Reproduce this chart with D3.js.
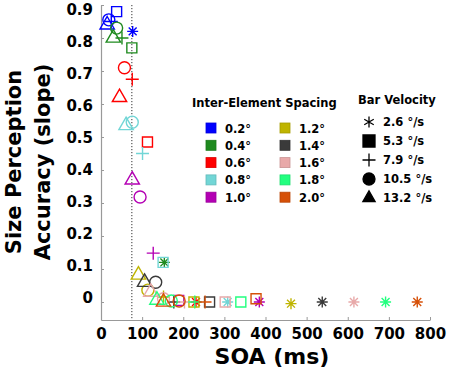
<!DOCTYPE html>
<html lang="en">
<head>
    <meta charset="UTF-8">
    <title>SOA vs size perception</title>
    <style>
        html, body { margin: 0; height: 100%; overflow: hidden; background: #fff; }
        text { font-family: "DejaVu Sans", Verdana, sans-serif; font-weight: bold; }
    </style>
    <script src="https://d3js.org/d3.v7.min.js"></script>
</head>
<body>
    <svg id="svg"></svg>
    <script>
        // data
        const spacings = ['0.2°', '0.4°', '0.6°', '0.8°', '1.0°', '1.2°', '1.4°', '1.6°', '1.8°', '2.0°'];
        const spacingColors = ['#0000ff', '#1f8a1f', '#ff0000', '#72d6d6', '#b400b4',
                               '#bfb400', '#3a3a3a', '#e8a9a9', '#22ff7f', '#d65008'];
        const velocities = ['2.6 °/s', '5.3 °/s', '7.9 °/s', '10.5 °/s', '13.2 °/s'];
        const velocityShapes = ['asterisk', 'square', 'plus', 'circle', 'triangle'];

        // SOA (ms), one row per spacing, columns follow velocities
        const soa = [
            [77, 38, 25, 19, 15],
            [154, 75, 51, 38, 30],
            [231, 113, 76, 57, 45],
            [308, 151, 101, 76, 61],
            [385, 189, 127, 95, 76],
            [462, 226, 152, 114, 91],
            [538, 264, 177, 133, 106],
            [615, 302, 203, 152, 121],
            [692, 340, 228, 171, 136],
            [769, 377, 253, 190, 152]
        ];
        // slope, same layout
        const slope = [
            [0.82, 0.88, 0.85, 0.855, 0.84],
            [0.12, 0.77, 0.80, 0.83, 0.80],
            [0.00, 0.485, 0.675, 0.71, 0.62],
            [0.00, 0.12, 0.45, 0.545, 0.535],
            [0.00, 0.005, 0.148, 0.318, 0.37],
            [-0.005, 0.00, 0.015, 0.036, 0.082],
            [0.00, 0.00, 0.00, 0.06, 0.06],
            [0.00, 0.00, 0.00, 0.01, 0.03],
            [0.00, 0.00, 0.00, 0.003, 0.006],
            [0.00, 0.01, 0.00, 0.003, 0.00]
        ];
        const xTicks = [0, 100, 200, 300, 400, 500, 600, 700, 800];
        const yTicks = [0, 0.1, 0.2, 0.3, 0.4, 0.5, 0.6, 0.7, 0.8, 0.9];
        const refSOA = 75;

        const width = 454, height = 371;
        const svg = d3.select('#svg').attr('width', width).attr('height', height);

        const xScale = d3.scaleLinear().domain([0, 800]).range([101, 430]);
        const yScale = d3.scaleLinear().domain([-0.0545, 0.9]).range([320, 5]);
        // tick labels in the original sit on a slightly tighter spread than the ticks
        const yLabelScale = d3.scaleLinear().domain([0, 0.9]).range([298, 10]);

        // marker paths
        function shapePath(type, s) {
            const r = s / 2;
            if (type === 'plus') return `M${-r},0H${r}M0,${-r}V${r}`;
            if (type === 'asterisk') {
                const d = r * 0.72;
                return `M${-r},0H${r}M0,${-r}V${r}M${-d},${-d}L${d},${d}M${-d},${d}L${d},${-d}`;
            }
            if (type === 'asterisk6') {
                const a = r * 0.866, b = r * 0.5;
                return `M0,${-r}V${r}M${-a},${-b}L${a},${b}M${-a},${b}L${a},${-b}`;
            }
            if (type === 'square') return d3.symbol(d3.symbolSquare, s * s)();
            if (type === 'circle') return d3.symbol(d3.symbolCircle, Math.PI * r * r)();
            if (type === 'triangle') return d3.symbol(d3.symbolTriangle, Math.sqrt(3) / 4 * s * s * 1.05)();
        }
        const shapeSize = { asterisk: 11, square: 10, plus: 13, circle: 12, triangle: 14 };

        // axes
        const yAxis = d3.axisLeft(yScale).tickValues(yTicks).tickSize(-3).tickSizeOuter(0).tickPadding(8)
            .tickFormat(d => d === 0 ? '0' : d3.format('.1f')(d));
        const gy = svg.append('g').attr('transform', 'translate(101,0)').call(yAxis);
        gy.selectAll('.tick text').attr('y', d => yLabelScale(d) - yScale(d));
        const xAxis = d3.axisBottom(xScale).tickValues(xTicks).tickSize(-3).tickSizeOuter(0).tickPadding(8);
        const gx = svg.append('g').attr('transform', 'translate(0,320)').call(xAxis);
        [gx, gy].forEach(g => {
            g.select('.domain').attr('stroke', '#999').attr('stroke-width', 1.2);
            g.selectAll('.tick line').attr('stroke', '#999');
            g.selectAll('.tick text').attr('fill', '#000').style('font-size', '15px');
        });

        // reference dotted line
        svg.append('line')
            .attr('x1', xScale(refSOA)).attr('x2', xScale(refSOA))
            .attr('y1', yScale(0.9)).attr('y2', 320)
            .attr('stroke', '#333').attr('stroke-width', 1).attr('stroke-dasharray', '1.2,1.8');

        // data points
        const points = [];
        spacings.forEach((sp, i) => {
            velocityShapes.forEach((shape, j) => {
                points.push({ spacing: i, shape: shape, soa: soa[i][j], slope: slope[i][j] });
            });
        });
        svg.append('g').selectAll('path').data(points).join('path')
            .attr('transform', d => `translate(${xScale(d.soa)},${yScale(d.slope)})`)
            .attr('d', d => shapePath(d.shape, shapeSize[d.shape]))
            .attr('fill', 'none')
            .attr('stroke', d => spacingColors[d.spacing])
            .attr('stroke-width', 1.4);

        // axis titles
        svg.append('text').attr('x', 272).attr('y', 364).attr('text-anchor', 'middle')
            .style('font-size', '22px').text('SOA (ms)');
        const yTitle = svg.append('g').attr('transform', 'translate(0,162) rotate(-90)');
        yTitle.append('text').attr('x', 0).attr('y', 21).attr('text-anchor', 'middle')
            .style('font-size', '21px').text('Size Perception');
        yTitle.append('text').attr('x', 0).attr('y', 50).attr('text-anchor', 'middle')
            .style('font-size', '21px').text('Accuracy (slope)');

        // spacing legend
        const leg1 = svg.append('g');
        leg1.append('text').attr('x', 192).attr('y', 107).style('font-size', '11.5px').text('Inter-Element Spacing');
        const legItems = leg1.selectAll('g.item').data(spacings).join('g').attr('class', 'item')
            .attr('transform', (d, i) => `translate(${i < 5 ? 206 : 280},${128 + (i % 5) * 17.3})`);
        legItems.append('rect').attr('x', 0).attr('y', -5).attr('width', 10).attr('height', 10)
            .attr('fill', (d, i) => spacingColors[i]).attr('stroke', (d, i) => d3.color(spacingColors[i]).darker(0.4))
            .attr('stroke-width', 0.8);
        legItems.append('text').attr('x', 19).attr('y', 4.5).style('font-size', '11.5px').text(d => d);

        // velocity legend
        const leg2 = svg.append('g');
        leg2.append('text').attr('x', 358).attr('y', 104).style('font-size', '11.5px').text('Bar Velocity');
        const velItems = leg2.selectAll('g.item').data(velocities).join('g').attr('class', 'item')
            .attr('transform', (d, i) => `translate(369,${122 + i * 19})`);
        velItems.append('path')
            .attr('d', (d, i) => {
                const sh = velocityShapes[i];
                return shapePath(sh === 'asterisk' ? 'asterisk6' : sh, sh === 'plus' ? 13 : (sh === 'asterisk' ? 11 : 12));
            })
            .attr('fill', (d, i) => (velocityShapes[i] === 'plus' || velocityShapes[i] === 'asterisk') ? 'none' : '#000')
            .attr('stroke', '#000').attr('stroke-width', 1.3);
        velItems.append('text').attr('x', 14).attr('y', 4).style('font-size', '11.5px').text(d => d);
    </script>
</body>
</html>
